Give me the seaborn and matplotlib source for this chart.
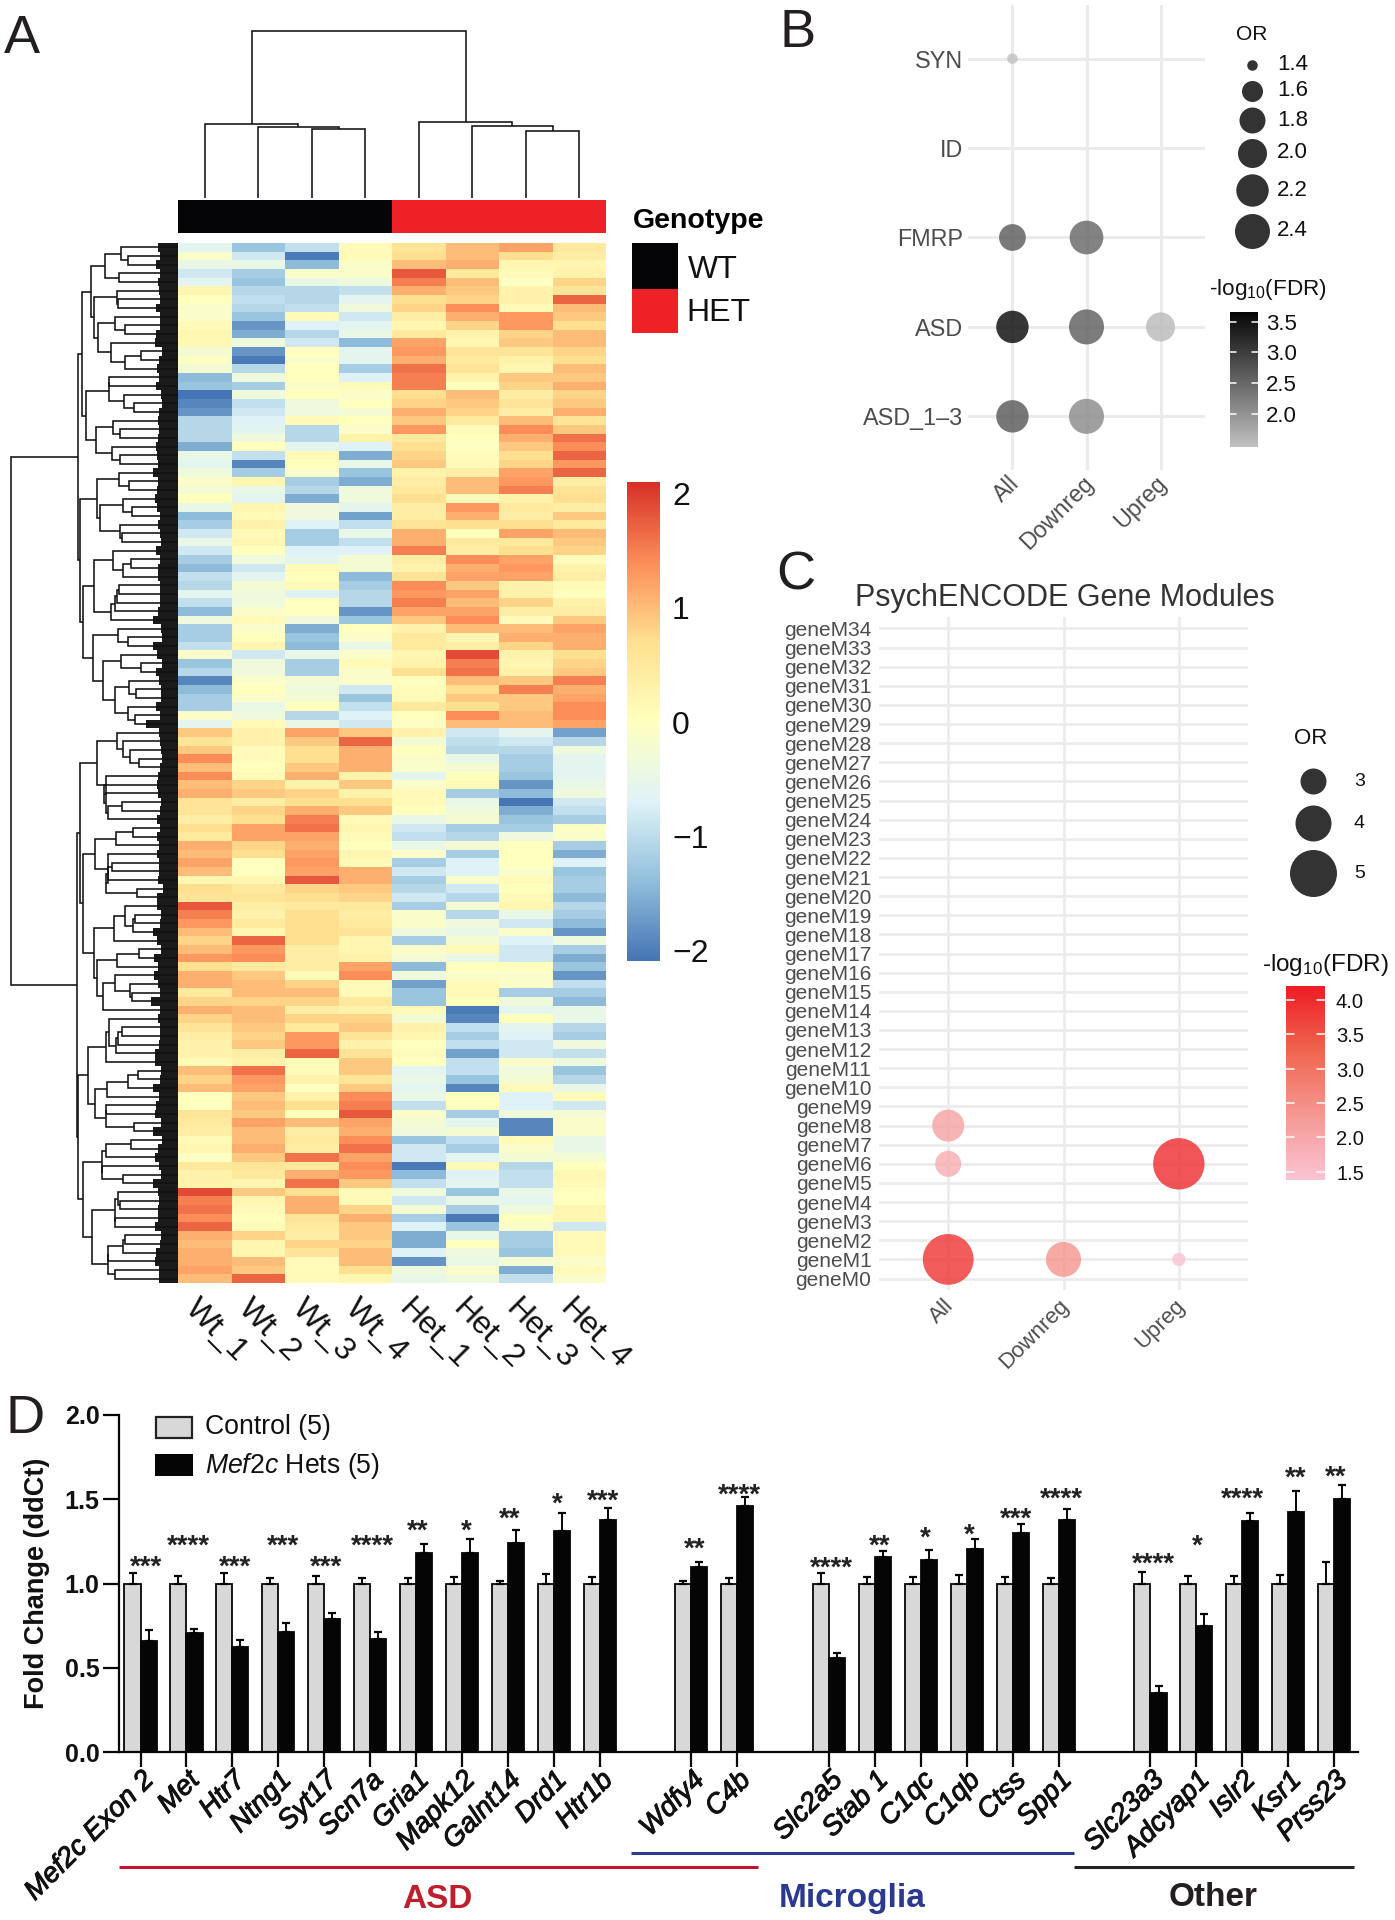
#!/usr/bin/env python3

import numpy as np
import pandas as pd
import seaborn as sns
import matplotlib
matplotlib.use("Agg")
import matplotlib.pyplot as plt
import matplotlib.patheffects as pe
from matplotlib.colors import Normalize, ListedColormap
from matplotlib.cm import ScalarMappable
from matplotlib.patches import Rectangle
from matplotlib.transforms import ScaledTranslation

# ---- panel A, z scores (120 bands)
wt_1 = [-.5,-.1,-.4,-.7,-.5,.2,0,-.1,-.1,.1,.2,.15,-.2,-.05,-.2,-1.2,-1.1,-1.8,-1.6,-1.5,-.9,-.9,-.9,-1.3,-.4,-.5,-.3,-.1,
        -.2,0,-.4,-1.2,-1,-.7,-.4,-.7,-1,-1.2,-.8,-.9,-.5,-.8,-1.2,-.3,-1,-1,-.8,-.1,-1.1,-.9,-1.6,-1.2,-1,-1,-.1,-.5,.9,
        .6,.9,1.4,1,1.4,1,1.1,.6,.6,.4,.7,.5,1.1,1,1.2,1,.2,.7,.6,1.8,1.5,1.3,1,.8,1,1.3,.7,1.1,1.1,.5,.8,1.1,
        .8,.6,.4,.3,.3,.1,1,.8,1,0,0,.6,.5,.4,.1,.2,-.05,.5,.3,.3,1.9,1.5,1.6,1.4,1.7,1.1,1,1.1,1.1,1.2,1]
wt_2 = [-1.1,-.7,-.4,-1,-1.1,-.9,-.8,-.9,-1.1,-1.5,-1.3,-.3,-1.5,-1.7,-.9,-.3,-1,-.3,-.8,-.7,-.6,-.5,-.3,0,-.8,-1.6,-1,.2,
        -.4,-.5,.2,.1,.3,.1,.2,0,-.3,-.7,-.5,-.2,-.3,-.3,-.1,.1,-.1,0,.2,-.7,-.3,-.3,-.1,0,-.1,-.4,-.3,.1,.3,
        .3,.05,.05,0,.1,.8,.9,.4,.8,.7,1.2,1.2,.8,.7,0,0,.2,.5,.6,.4,.3,.5,.2,1.7,1.3,1.4,.5,.9,1,1,.8,1,
        1,.9,.8,.9,.4,.3,1.6,1.3,1.2,.9,1,.9,1.2,1,1,1.1,.9,.6,.5,.2,.9,.2,.1,0,.1,.8,.2,.2,1,.9,1.7]
wt_3 = [-.8,-1.7,-1.2,-.1,-.4,-.9,-.9,-.8,.1,-.6,-.9,-.7,0,-.1,0,0,-.1,0,-.3,-.3,.1,-.9,-.9,-.5,.1,0,-.1,-1,
        -.9,-1.3,-.3,-.3,-.6,-1,-1,-.6,-.5,.1,0,.1,-.6,0,0,-.3,-1.3,-1.1,-1.2,-.4,-1,-1,-.2,-.3,-.2,0,-.9,-.4,1.2,
        .9,.7,.7,.9,1.1,.3,.8,.7,1.1,1.5,1.6,1.2,1.1,1.2,1.3,1.2,1.8,.8,.7,.5,.7,.7,.7,.7,.4,.4,.4,.1,.8,1,.8,.4,
        .8,.5,1.3,1.3,1.7,.1,.05,.3,0,.3,.7,0,1,.4,.5,.4,1.6,.5,1.1,1.6,.7,1.1,1.1,.6,.5,.4,.8,.6,.1,.05,.1]
wt_4 = [.1,.1,-.1,-.1,-.3,-.8,-.5,-.3,-.7,-.5,-.4,-1.2,-.5,-.5,-1,-.6,.1,-.1,0,-.2,0,-.1,.3,-.6,-1.3,-.4,-1.1,-1.3,
        -.3,-.3,-.5,-1.4,-.8,-.4,-.8,-.6,-.2,-.2,-1.2,-1,-.9,-.9,-1.5,-1.1,0,-.1,-.4,-.1,.1,-.1,-.1,-.7,-1.1,-.8,-.6,-.7,.9,
        1.7,1.1,1.1,1.1,.3,.9,.3,.7,.9,.1,.2,.1,0,.2,.1,1.1,1.1,.9,.8,.5,.4,.5,.6,.2,.2,.3,1.2,1.4,.1,.1,.5,.3,
        .8,.9,.6,.3,.6,.9,.9,.6,.9,1.4,1.5,1.8,1.2,1.1,1.4,1.6,1.2,1.4,1.3,.9,.1,.1,.8,1.1,.9,.9,.8,1,1,.7,.2]
het_1 = [.6,.7,1,1.8,1.5,1.1,.7,.8,.4,.2,.5,1.2,1.3,1.1,1.6,1.5,1.5,.7,.8,1.1,.9,1.3,.5,.7,.8,.9,.3,.4,
         .5,.7,.4,.4,.6,1.1,1.1,1.5,.4,.3,.6,1.4,1.3,1.5,1.2,.9,.3,.5,.5,.2,.3,.7,0,.05,.1,.5,0,-.05,.3,
         -.2,0,-.1,-.1,-.5,-.1,.1,.1,0,-.4,-.7,-.8,-.4,-.1,-1,-.7,-1,-.9,-.7,-1,-.1,-.1,-.3,-1,-.1,-.2,-1.2,-.3,-1.4,-1.1,-1.1,.1,
         -.2,.3,.2,0,.05,0,-.5,-.4,-.5,-.4,-.8,-.1,-.2,-.3,-1.1,-.7,-.7,-1.7,-1.2,-.8,-.3,-.7,-.2,-1,-.6,-1.3,-1.3,-.6,-1.5,-.3,-.4]
het_2 = [1,1,1.1,.5,1,.9,.8,1.4,1.1,.8,.3,.2,.6,.5,.6,.3,0,1,.9,.8,.5,.1,0,-.05,.05,.1,.4,1,
         1,.1,1.3,1.1,.7,0,.5,.4,1.4,1.1,1.2,.9,1.2,1,1.2,1.4,1,.2,.4,1.9,1.5,1.6,1,.7,.9,.7,1.4,1,-.7,
         -.8,-.9,-.4,-.2,0,.1,-1,-.4,-.3,-.2,-1,-.9,-.2,-1,-.6,-.6,-.1,-.7,-.9,-.2,-.9,-.3,-.4,-.2,.1,-.4,0,-.1,.1,.1,0,-1.7,
         -1.6,-.8,-1,-.8,-1.4,-.8,-.8,-1.1,-1.6,0,0,-1,-.5,-.2,-.8,-1,-.5,.1,-.6,-.5,-1.1,-.4,-1,-1.7,-1.1,-.4,0,-.3,-.4,-.1,-.3]
het_3 = [1.2,.7,.2,.1,-.05,.3,.3,.1,1.3,1.3,.8,.9,.6,.3,.2,.9,.8,.4,.6,.4,1,1.4,1.1,.9,.7,.8,1.2,1.3,
         1.5,.3,.5,.4,.7,1.2,.5,.7,1.2,1.3,1.2,.3,.3,.8,.4,.05,1,1.1,.8,.3,.2,.3,.9,1.5,.9,.9,1,1,-.5,
         -.7,-.9,-1,-1,-1.1,-1.5,-1.2,-1.8,-1.3,-1.1,-1,-.3,0,0,0,-.1,.1,0,.1,.2,-.4,-.7,-.1,-.6,-.7,-.7,0,-.1,-.1,-1,-.3,-.5,
         0,-.5,-.6,-.7,-.7,-.1,-.3,-.2,.1,-.6,-.6,-.3,-1.6,-1.6,.1,-.1,-.2,-.9,-.8,-.8,-.4,-.5,-.3,0,-.1,-1,-1,-1.1,-.2,-1.3,-.8]
het_4 = [.5,.4,.2,.3,.8,.6,1.7,1,.9,.7,1,1,.8,.7,1,.9,1.1,.8,.9,1.1,.6,.9,1.6,1.4,1.7,1.3,1.7,.4,
         .6,.7,.4,.9,.5,1,.9,.8,.05,.3,.4,.1,0,.3,.4,.9,1.2,1.1,1.1,.7,.8,.9,1.5,1.1,1.2,1.4,1.4,1.2,-1.4,
         -.9,-.3,-.5,-.5,-.5,-.4,-.3,-.7,-.8,-1,-.05,-.1,-1,-1.3,-.6,-1.1,-1,-1,-1.2,-.9,-1,-1.2,-1.5,-.3,-1,-1.3,-1.1,-1.5,-.8,-1,-1.2,-.4,
         -.4,-.9,-1,-.3,-.8,-.3,-1.1,-.9,-.4,.1,-.7,-.2,-.1,-.1,-.4,-.4,-.2,0,.15,.1,0,0,.2,.2,-.7,.1,.1,.1,-.1,.1,-.1]
sample_names = ["Wt_1", "Wt_2", "Wt_3", "Wt_4", "Het_1", "Het_2", "Het_3", "Het_4"]
genotype = [0, 0, 0, 0, 1, 1, 1, 1]
# the blues were read a bit light against the colour bar
blue_scale = 1.2

# dendrogram heights: (merge height, child, child); row terminals are (height, n rows)
sample_tree = (1.0, (.44, 0, (.425, 1, (.41, 2, 3))), (.455, 4, (.43, 5, (.40, 6, 7))))
upper_a = (96, (87, (73, (57, 3), (59, 2)), (84, (61, 3), (80, (63, 3), (67, 4)))),
           (92, (69, 5), (82, (65, 3), (66, 3))))
upper_b = (98, (81, (59, 3), (78, (55, 3), (58, 3))),
           (95, (84, (65, 4), (67, 5)), (85, (60, 3), (75, (57, 3), (63, (49, 3), (50, 3))))))
lower_a = (98, (81, (61, 5), (72, 6)),
           (95, (83, (62, 3), (70, 6)), (84, (64, 5), (81, (61, 3), (75, 5)))))
lower_b = (100, (90, (72, 6), (83, (71, 4), (72, 4))), (95, (76, 6), (86, (63, 5), (70, 6))))
row_tree = (167, (100, upper_a, upper_b), (101, lower_a, lower_b))

# ---- panel B
b_sets = ["ASD_1–3", "ASD", "FMRP", "ID", "SYN"]
b_groups = ["All", "Downreg", "Upreg"]
b_point_set = ["SYN", "FMRP", "FMRP", "ASD", "ASD", "ASD", "ASD_1–3", "ASD_1–3"]
b_point_group = ["All", "All", "Downreg", "All", "Downreg", "Upreg", "All", "Downreg"]
b_or = [1.4, 1.85, 2.3, 2.2, 2.4, 2.0, 2.2, 2.45]
b_fdr = [1.46, 2.67, 2.55, 3.66, 2.65, 1.55, 2.72, 2.12]
b_or_legend = [1.4, 1.6, 1.8, 2.0, 2.2, 2.4]
b_or_diam = [10.5, 21, 26, 29, 32.4, 35]
b_fdr_ticks = [2.0, 2.5, 3.0, 3.5]

# ---- panel C
c_modules = [f"geneM{i}" for i in range(35)]
c_point_module = ["geneM8", "geneM6", "geneM1", "geneM1", "geneM6", "geneM1"]
c_point_group = ["All", "All", "All", "Downreg", "Upreg", "Upreg"]
c_or = [3.6, 3.0, 5.3, 3.9, 5.35, 2.2]
c_fdr = [2.1, 1.9, 3.9, 2.4, 4.0, 1.4]
c_or_legend = [3, 4, 5]
c_or_scale = [2.2, 3, 4, 5, 5.4]
c_or_diam = [13.4, 26, 36, 47, 52]
c_fdr_ticks = [1.5, 2.0, 2.5, 3.0, 3.5, 4.0]

# ---- panel D
genes = ["Mef2c Exon 2", "Met", "Htr7", "Ntng1", "Syt17", "Scn7a", "Gria1", "Mapk12", "Galnt14", "Drd1", "Htr1b",
         "Wdfy4", "C4b",
         "Slc2a5", "Stab 1", "C1qc", "C1qb", "Ctss", "Spp1",
         "Slc23a3", "Adcyap1", "Islr2", "Ksr1", "Prss23"]
gene_order = genes[:11] + [" "] + genes[11:13] + ["  "] + genes[13:19] + ["   "] + genes[19:]
control_mean = [1.0] * 24
control_err = [.06, .047, .06, .03, .043, .033, .03, .037, .017, .055, .037,
               .013, .03,
               .064, .038, .038, .048, .04, .034,
               .066, .042, .042, .048, .127]
het_mean = [.658, .706, .626, .714, .79, .672, 1.183, 1.183, 1.24, 1.314, 1.374,
            1.097, 1.46,
            .558, 1.157, 1.139, 1.207, 1.301, 1.375,
            .349, .747, 1.371, 1.426, 1.502]
het_err = [.064, .026, .04, .052, .032, .042, .049, .081, .076, .102, .074,
           .03, .054,
           .028, .036, .058, .06, .054, .065,
           .04, .074, .049, .124, .082]
stars = ["***", "****", "***", "***", "***", "****", "**", "*", "**", "*", "***",
         "**", "****",
         "****", "**", "*", "*", "***", "****",
         "****", "*", "****", "**", "**"]
star_y = [1.15, 1.27, 1.15, 1.27, 1.15, 1.27, 1.364, 1.364, 1.43, 1.52, 1.54,
          1.254, 1.575,
          1.14, 1.27, 1.318, 1.34, 1.43, 1.55,
          1.168, 1.27, 1.55, 1.675, 1.68]
star_dx = [.12, .04, .05, .10, .04, .04, .04, .09, .04, .07, .08,
           .07, .05,
           .05, .09, .09, .05, .08, .07,
           .07, .01, .01, .16, .03]

W, H = 1395, 1920
sns.set_theme(style="white")
plt.rcParams["font.family"] = ["Liberation Sans", "DejaVu Sans"]
plt.rcParams["mathtext.fontset"] = "custom"
plt.rcParams["mathtext.rm"] = "Liberation Sans"
plt.rcParams["mathtext.it"] = "Liberation Sans:italic"
plt.rcParams["mathtext.bf"] = "Liberation Sans:bold"
plt.rcParams["mathtext.default"] = "regular"

fig = plt.figure(figsize=(W / 100, H / 100), dpi=100)


def box(x0, y0, x1, y1):
    # axes from pixel corners
    return fig.add_axes([x0 / W, 1 - y1 / H, (x1 - x0) / W, (y1 - y0) / H])


def px2pt(d):
    return (d * 0.72) ** 2


over = box(0, 0, W, H)
over.set_xlim(0, W)
over.set_ylim(H, 0)
over.axis("off")
over.set_zorder(5)

ink = "#111111"
heat_cols = dict(zip(sample_names, [wt_1, wt_2, wt_3, wt_4, het_1, het_2, het_3, het_4]))
heat_df = pd.DataFrame(heat_cols)
heat_df = heat_df.where(heat_df >= 0, heat_df * blue_scale)
rdylbu = sns.blend_palette(["#4575B4", "#91BFDB", "#E0F3F8", "#FFFFBF", "#FEE090", "#FC8D59", "#D73027"],
                           n_colors=100, as_cmap=True)
ax_heat = box(178, 243, 606, 1283)
sns.heatmap(heat_df, cmap=rdylbu, vmin=-2.1, vmax=2.1, cbar=False, xticklabels=False, yticklabels=False, ax=ax_heat)

ax_bar = box(178, 200, 606, 233)
sns.heatmap(pd.DataFrame([genotype]), cmap=ListedColormap(["#050507", "#EE2226"]), cbar=False,
            xticklabels=False, yticklabels=False, ax=ax_bar)


def link(ax, h, pa, ha, pb, hb, horizontal):
    xs, ys = [ha, h, h, hb], [pa, pa, pb, pb]
    if not horizontal:
        xs, ys = ys, xs
    ax.plot(xs, ys, color=ink, lw=1.15, solid_joinstyle="miter", solid_capstyle="butt")


ax_col = box(178, 30, 606, 198)
ax_col.set_xlim(0, 8)
ax_col.set_ylim(0, 1.005)
ax_col.axis("off")


def draw_samples(node):
    if isinstance(node, int):
        return node + .5, 0
    pa, ha = draw_samples(node[1])
    pb, hb = draw_samples(node[2])
    link(ax_col, node[0], pa, ha, pb, hb, False)
    return (pa + pb) / 2, node[0]


draw_samples(sample_tree)

ax_row = box(0, 243, 178, 1283)
ax_row.set_xlim(178, 0)
ax_row.set_ylim(120, 0)
ax_row.axis("off")
values = heat_df.to_numpy()


def cluster_rows(first, n, top):
    # order-keeping agglomeration of the heat rows under one hand-read branch
    nodes = [dict(p=first + i + .5, h=0, m=values[first + i], n=1, kids=None) for i in range(n)]
    merges = []
    while len(nodes) > 1:
        d = [np.linalg.norm(nodes[i]["m"] - nodes[i + 1]["m"]) for i in range(len(nodes) - 1)]
        i = int(np.argmin(d))
        a, b = nodes[i], nodes[i + 1]
        size = a["n"] + b["n"]
        new = dict(p=(a["p"] + b["p"]) / 2, h=d[i], m=(a["m"] * a["n"] + b["m"] * b["n"]) / size, n=size, kids=(a, b))
        nodes[i:i + 2] = [new]
        merges.append(new)
    dmax = max(m["h"] for m in merges) if merges else 1
    for m in merges:
        m["h"] = max(26 + (top - 26) * m["h"] / dmax, max(k["h"] for k in m["kids"]) + 2)
    root = nodes[0]
    root["h"] = top

    def walk(nd):
        if nd["kids"] is None:
            return
        a, b = nd["kids"]
        walk(a)
        walk(b)
        link(ax_row, nd["h"], a["p"], a["h"], b["p"], b["h"], True)

    walk(root)
    return root["p"], top


def draw_rows(node, first):
    if isinstance(node[1], int):
        p, h = cluster_rows(first, node[1], node[0])
        return p, h, first + node[1]
    pa, ha, nxt = draw_rows(node[1], first)
    pb, hb, nxt = draw_rows(node[2], nxt)
    link(ax_row, node[0], pa, ha, pb, hb, True)
    return (pa + pb) / 2, node[0], nxt


draw_rows(row_tree, 0)
steps = np.linalg.norm(np.diff(values, axis=0), axis=1)
leaf_width = np.clip(13 + 5 * np.append(steps, steps[-1]), 13, 32)
ax_row.barh(np.arange(120) + .5, leaf_width, height=1, color="#1a1a1a", linewidth=0)

for i, name in enumerate(sample_names):
    over.text(178 + 53.5 * (i + .5) - 15, 1304, name, rotation=-45, rotation_mode="anchor", ha="left", va="center",
              fontsize=23, color="#111111")
over.text(633, 221, "Genotype", fontsize=20.5, fontweight="bold", va="center", color="black")
over.add_patch(Rectangle((632, 243), 46, 46, color="#050507", lw=0))
over.add_patch(Rectangle((632, 289), 46, 44, color="#EE2226", lw=0))
over.text(688, 270, "WT", fontsize=23, va="center", color="#111111")
over.text(686, 313, "HET", fontsize=23, va="center", color="#111111")


def colorbar(bx, cmap, lo, hi, ticks, labels, lab_x, fs, white_ticks):
    cax = box(*bx)
    cb = fig.colorbar(ScalarMappable(Normalize(lo, hi), cmap), cax=cax)
    cb.outline.set_visible(False)
    cb.set_ticks([])
    if white_ticks:
        for t in ticks:
            cax.plot([0, .2], [t, t], color="white", lw=1.1, transform=cax.get_yaxis_transform())
            cax.plot([.8, 1], [t, t], color="white", lw=1.1, transform=cax.get_yaxis_transform())
    y_scale = (bx[3] - bx[1]) / (hi - lo)
    for t, lab in zip(ticks, labels):
        over.text(lab_x, bx[1] + (hi - t) * y_scale + 2.5, lab, fontsize=fs, va="center", ha="left", color="#111111")


colorbar((627, 482, 660, 961), rdylbu, -2.08, 2.11, [2, 1, 0, -1, -2], ["2", "1", "0", "−1", "−2"], 672, 23, False)

# ---- B
grey_cmap = sns.blend_palette(["#C0C0C0", "#050505"], n_colors=22, as_cmap=True)
ax_b = box(968, 5, 1205, 470)
b_df = pd.DataFrame({"set": [b_sets.index(s) for s in b_point_set],
                     "group": [b_groups.index(g) for g in b_point_group],
                     "OR": b_or, "fdr": b_fdr})
b_sizes = {v: px2pt(np.interp(v, b_or_legend, b_or_diam)) for v in b_or}
sns.scatterplot(data=b_df, x="group", y="set", size="OR", sizes=b_sizes, hue="fdr", palette=grey_cmap,
                hue_norm=(1.46, 3.66), alpha=.8, linewidth=0, legend=False, ax=ax_b, zorder=3)
ax_b.set_xlim(-.6, 2.6)
ax_b.set_ylim(-.6, 4.6)


def dot_axis(ax, xlabels, ylabels, fs, x_pad, y_pad):
    ax.set_xticks(range(len(xlabels)), xlabels, rotation=45, ha="right", rotation_mode="anchor", fontsize=fs,
                  color="#4d4d4d")
    ax.set_yticks(range(len(ylabels)), ylabels, fontsize=fs, color="#4d4d4d")
    ax.set_xlabel("")
    ax.set_ylabel("")
    ax.grid(True, color="#ebebeb", lw=2.2)
    ax.set_axisbelow(True)
    ax.tick_params(axis="x", length=0, pad=x_pad)
    ax.tick_params(axis="y", length=0, pad=y_pad)
    shift = ScaledTranslation(-5 / 100, 0, fig.dpi_scale_trans)
    for lab in ax.get_xticklabels():
        lab.set_transform(lab.get_transform() + shift)
    sns.despine(ax=ax, left=True, bottom=True)


dot_axis(ax_b, b_groups, b_sets, 16.8, 1, 3.5)
over.text(1236, 35, "OR", fontsize=15, va="center", color="#111111")
for v, dia, y in zip(b_or_legend, b_or_diam, [65, 91, 120, 153, 190, 231]):
    over.scatter([1252], [y], s=px2pt(dia), color="black", alpha=.8, linewidth=0)
    over.text(1277, y, f"{v:.1f}", fontsize=16, va="center", color="#111111")
over.text(1209, 290, "-log$_{10}$(FDR)", fontsize=16.2, va="center", color="#111111")
colorbar((1230, 312, 1258, 447), grey_cmap, 1.46, 3.66, b_fdr_ticks, [f"{t:.1f}" for t in b_fdr_ticks], 1266, 16, True)

# ---- C
pink_cmap = sns.blend_palette(["#FBC4D4", "#F59893", "#F0654F", "#EE1C25"], n_colors=22, as_cmap=True)
ax_c = box(879, 617, 1248, 1290)
c_df = pd.DataFrame({"module": [c_modules.index(m) for m in c_point_module],
                     "group": [b_groups.index(g) for g in c_point_group],
                     "OR": c_or, "fdr": c_fdr})
c_sizes = {v: px2pt(np.interp(v, c_or_scale, c_or_diam)) for v in c_or}
sns.scatterplot(data=c_df, x="group", y="module", size="OR", sizes=c_sizes, hue="fdr", palette=pink_cmap,
                hue_norm=(1.38, 4.2), alpha=.8, linewidth=0, legend=False, ax=ax_c, zorder=3)
ax_c.set_xlim(-.6, 2.6)
ax_c.set_ylim(-.6, 34.6)
dot_axis(ax_c, b_groups, c_modules, 15, 3.7, 5.4)
ax_c.tick_params(axis="x", labelsize=16)
ax_c.grid(True, color="#ebebeb", lw=1.9)
over.text(855, 598, "PsychENCODE Gene Modules", fontsize=22, va="center", color="#333333")
over.text(1294, 739, "OR", fontsize=16, va="center", color="#111111")
for v, y in zip(c_or_legend, [781, 823, 873]):
    over.scatter([1313], [y], s=px2pt(np.interp(v, c_or_scale, c_or_diam)), color="black", alpha=.8, linewidth=0)
    over.text(1354, y + 1, str(v), fontsize=14, va="center", color="#111111")
over.text(1262, 965, "-log$_{10}$(FDR)", fontsize=17.5, va="center", color="#111111")
colorbar((1286, 986, 1325, 1180), pink_cmap, 1.38, 4.2, c_fdr_ticks, [f"{t:.1f}" for t in c_fdr_ticks], 1336, 14.5, True)

# ---- D
bar_df = pd.DataFrame({"gene": genes * 2,
                       "group": ["Control"] * 24 + ["Het"] * 24,
                       "fold": control_mean + het_mean,
                       "err": control_err + het_err})
ax_d = box(118.5, 1415, 1358, 1752)
sns.barplot(data=bar_df, x="gene", y="fold", hue="group", order=gene_order, hue_order=["Control", "Het"],
            palette={"Control": "#D8D8D8", "Het": "#050505"}, width=.7, errorbar=None, edgecolor="#050505",
            linewidth=1.3, legend=False, ax=ax_d)
ax_d.set_xlim(-.48, 26.52)
ax_d.set_ylim(0, 2)
for i, gene in enumerate(genes):
    slot = gene_order.index(gene)
    for offset, mean, err in [(-.175, control_mean[i], control_err[i]), (.175, het_mean[i], het_err[i])]:
        ax_d.errorbar(slot + offset, mean, yerr=[[0], [err]], color="#050505", elinewidth=1.4, capsize=3, capthick=1.6,
                      zorder=1)
    ax_d.text(slot + star_dx[i], star_y[i] - .095, stars[i], ha="center", va="baseline", fontsize=20,
              fontweight="bold", color="#222222")
ax_d.set_xticks([gene_order.index(g) for g in genes], genes, rotation=45, ha="right", rotation_mode="anchor",
                fontsize=20, fontstyle="italic", color="#111111",
                path_effects=[pe.withStroke(linewidth=.7, foreground="#111111")])
gene_shift = ScaledTranslation(-4 / 100, 0, fig.dpi_scale_trans)
for lab in ax_d.get_xticklabels():
    lab.set_transform(lab.get_transform() + gene_shift)
ax_d.set_yticks([0, .5, 1, 1.5, 2], ["0.0", "0.5", "1.0", "1.5", "2.0"], fontsize=18, fontweight="bold",
                color="#111111")
ax_d.tick_params(axis="x", length=11, width=1.6, color="#050505", pad=0, bottom=True)
ax_d.tick_params(axis="y", length=11.5, width=1.6, color="#050505", pad=2, left=True)
ax_d.set_xlabel("")
ax_d.set_ylabel("Fold Change (ddCt)", fontsize=19.5, fontweight="bold", color="#111111", labelpad=10.5)
sns.despine(ax=ax_d)
for side in ["left", "bottom"]:
    ax_d.spines[side].set_linewidth(1.6)
    ax_d.spines[side].set_color("#050505")

over.add_patch(Rectangle((156, 1417), 36, 21, facecolor="#D8D8D8", edgecolor="#222222", lw=1.6))
over.add_patch(Rectangle((155, 1454), 38, 22, facecolor="#050505", edgecolor="#050505", lw=0))
over.text(205, 1427, "Control (5)", fontsize=19.2, va="center", color="#111111")
over.text(205, 1466, "$\\mathit{Mef2c}$ Hets (5)", fontsize=19.2, va="center", color="#111111")
over.plot([118.5, 757.5], [1867, 1867], color="#C4122F", lw=2.2, solid_capstyle="butt")
over.plot([631, 1074], [1853, 1853], color="#2B3990", lw=2.2, solid_capstyle="butt")
over.plot([1074, 1353.5], [1867, 1867], color="#222222", lw=2.2, solid_capstyle="butt")
over.text(437, 1899, "ASD", fontsize=24, fontweight="bold", color="#BE1E2D", ha="center", va="center")
over.text(852, 1899, "Microglia", fontsize=24, fontweight="bold", color="#2B3990", ha="center", va="center")
over.text(1213.5, 1897, "Other", fontsize=24, fontweight="bold", color="#231F20", ha="center", va="center")

# panel letters
for letter, x, y in [("A", 4, 39), ("B", 779, 33), ("C", 776, 575), ("D", 5, 1419)]:
    over.text(x, y, letter, fontsize=39, va="center", color="#231F20")

fig.savefig("out.png", dpi=100)
